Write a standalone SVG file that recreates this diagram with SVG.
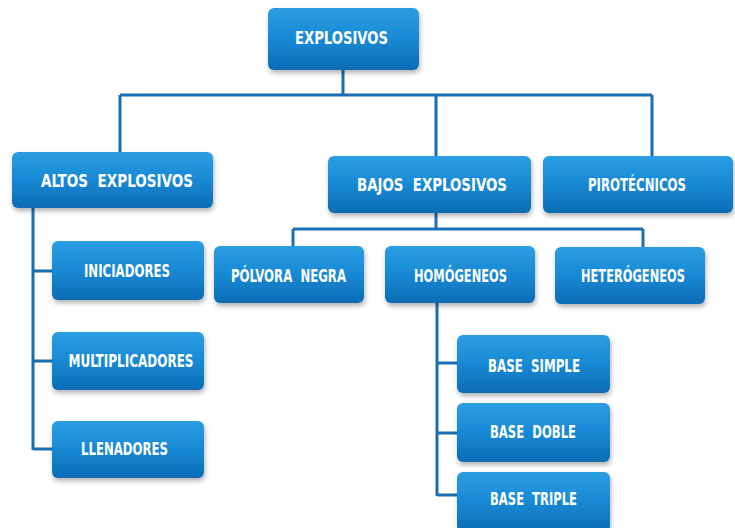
<svg xmlns="http://www.w3.org/2000/svg" width="735" height="528" viewBox="0 0 735 528">
<defs>
<linearGradient id="g" x1="0" y1="0" x2="0" y2="1">
<stop offset="0" stop-color="#2b9ee2"/>
<stop offset="0.5" stop-color="#1889d4"/>
<stop offset="1" stop-color="#0b6cb4"/>
</linearGradient>
<filter id="sh" x="-10%" y="-10%" width="125%" height="140%">
<feDropShadow dx="1" dy="3" stdDeviation="2.5" flood-color="#000" flood-opacity="0.3"/>
</filter>
</defs>
<style>
.b{fill:url(#g);filter:url(#sh)}
.t{fill:#fff;font-family:"Liberation Sans Narrow","DejaVu Sans Condensed","Roboto Condensed","Liberation Sans",sans-serif;font-weight:bold;font-size:17px;text-anchor:middle;white-space:pre}
.c{fill:none;stroke:#1a6fb4;stroke-width:3}
</style>
<rect width="735" height="528" fill="#fff"/>
<g id="connectors">
<path class="c" d="M343 70V95M120 95H652M120 95V152M436 95V156M652 95V156"/>
<path class="c" d="M33 208V450M33 271H52M33 361H52M33 449H52"/>
<path class="c" d="M436 213V229M293 229H643M293 229V246M643 229V247"/>
<path class="c" d="M437 303V496M437 363H457M437 433H457M437 495H457"/>
</g>
<g id="explosivos"><rect class="b" x="268" y="8" width="151" height="62" rx="6"/><text class="t" x="341.5" y="44" textLength="93" lengthAdjust="spacingAndGlyphs">EXPLOSIVOS</text></g>
<g id="altos"><rect class="b" x="12" y="152" width="201" height="56" rx="6"/><text class="t" x="117" y="187" textLength="152" lengthAdjust="spacingAndGlyphs">ALTOS  EXPLOSIVOS</text></g>
<g id="bajos"><rect class="b" x="328" y="156" width="203" height="57" rx="6"/><text class="t" x="432" y="191" textLength="150" lengthAdjust="spacingAndGlyphs">BAJOS  EXPLOSIVOS</text></g>
<g id="pirotecnicos"><rect class="b" x="543" y="156" width="190" height="57" rx="6"/><text class="t" x="637" y="191" textLength="98" lengthAdjust="spacingAndGlyphs">PIROTÉCNICOS</text></g>
<g id="polvora"><rect class="b" x="214" y="246" width="150" height="57" rx="6"/><text class="t" x="288.5" y="282" textLength="115" lengthAdjust="spacingAndGlyphs">PÓLVORA  NEGRA</text></g>
<g id="homogeneos"><rect class="b" x="385" y="246" width="150" height="57" rx="6"/><text class="t" x="460.5" y="282" textLength="93" lengthAdjust="spacingAndGlyphs">HOMÓGENEOS</text></g>
<g id="heterogeneos"><rect class="b" x="555" y="247" width="150" height="57" rx="6"/><text class="t" x="633" y="282" textLength="104" lengthAdjust="spacingAndGlyphs">HETERÓGENEOS</text></g>
<g id="iniciadores"><rect class="b" x="52" y="241" width="152" height="59" rx="6"/><text class="t" x="127" y="277" textLength="86" lengthAdjust="spacingAndGlyphs">INICIADORES</text></g>
<g id="multiplicadores"><rect class="b" x="52" y="332" width="152" height="58" rx="6"/><text class="t" x="131" y="367" textLength="125" lengthAdjust="spacingAndGlyphs">MULTIPLICADORES</text></g>
<g id="llenadores"><rect class="b" x="52" y="421" width="152" height="57" rx="6"/><text class="t" x="124.5" y="455" textLength="87" lengthAdjust="spacingAndGlyphs">LLENADORES</text></g>
<g id="base-simple"><rect class="b" x="457" y="335" width="153" height="58" rx="6"/><text class="t" x="534" y="372" textLength="92" lengthAdjust="spacingAndGlyphs">BASE  SIMPLE</text></g>
<g id="base-doble"><rect class="b" x="457" y="403" width="153" height="59" rx="6"/><text class="t" x="533" y="438" textLength="86" lengthAdjust="spacingAndGlyphs">BASE  DOBLE</text></g>
<g id="base-triple"><rect class="b" x="457" y="472" width="153" height="60" rx="6"/><text class="t" x="533.5" y="505" textLength="87" lengthAdjust="spacingAndGlyphs">BASE  TRIPLE</text></g>
</svg>
